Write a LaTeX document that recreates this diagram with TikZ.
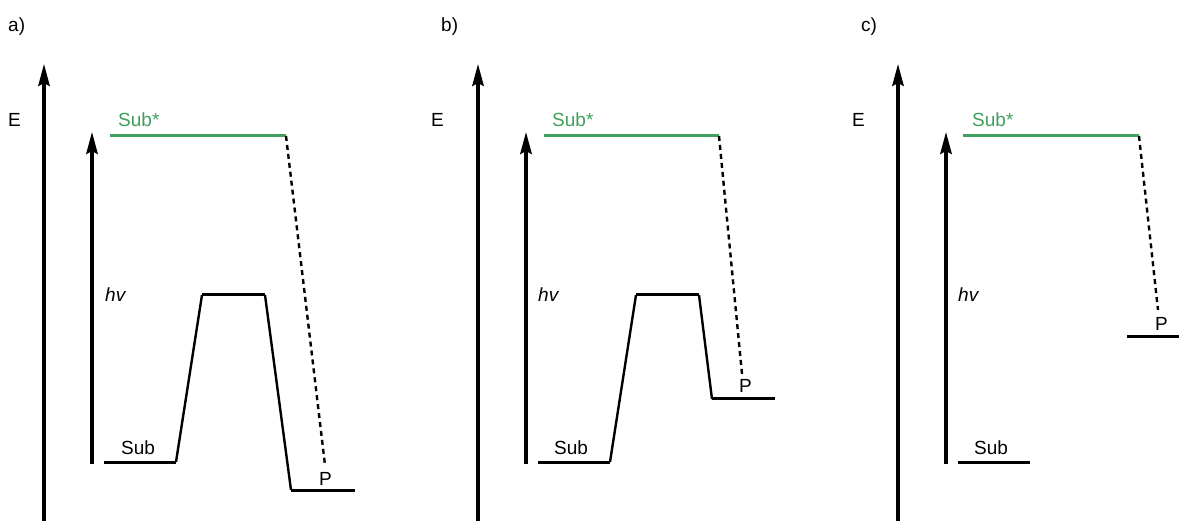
\documentclass[tikz,border=0pt]{standalone}
\usepackage{fontspec}
\setmainfont{Liberation Sans}
\usetikzlibrary{arrows.meta}
\definecolor{subgreen}{RGB}{62,160,92}
\begin{document}
\begin{tikzpicture}[x=1pt,y=-1pt,
  axisarrow/.style={line width=3.2pt,-{Stealth[length=22pt,width=11.5pt,inset=3pt]}},
  level/.style={line width=3pt},
  slope/.style={line width=2.4pt,line join=round},
  excited/.style={line width=3pt,draw=subgreen},
  decay/.style={line width=2.4pt,dash pattern=on 5pt off 4pt},
  lbl/.style={inner sep=0pt,font=\fontsize{19}{22}\selectfont,anchor=base west},
  glbl/.style={lbl,text=subgreen}]
\useasboundingbox (0,0) rectangle (1179,521);
% ---------- panel a ----------
\node[lbl] (la) at (8,32) {a)};
\coordinate (aA0) at (44,521); \coordinate (aA1) at (44,64);
\draw[axisarrow] (aA0) -- (aA1);
\node[lbl] (aE) at (8,127) {E};
\coordinate (aH0) at (92,464); \coordinate (aH1) at (92,132);
\draw[axisarrow] (aH0) -- (aH1);
\node[lbl] (ahv) at (105,302) {\itshape hv};
\coordinate (aG0) at (110,136); \coordinate (aG1) at (286,136);
\draw[excited] (aG0) -- (aG1);
\node[glbl] (aSs) at (118,127) {Sub*};
\coordinate (aS0) at (104,462); \coordinate (aS1) at (176,462);
\coordinate (aT0) at (202,295); \coordinate (aT1) at (265,295);
\coordinate (aP0) at (291,490); \coordinate (aP1) at (355,490);
\draw[level] (aS0) -- (aS1);
\draw[slope] (aS1) -- (aT0);
\draw[level] (aT0) -- (aT1);
\draw[slope] (aT1) -- (aP0);
\draw[level] (aP0) -- (aP1);
\node[lbl] (aSub) at (121,454) {Sub};
\node[lbl] (aP) at (319,485) {P};
\coordinate (aD) at (325,465);
\draw[decay] (aG1) -- (aD);
% ---------- panel b ----------
\node[lbl] (lb) at (441,32) {b)};
\coordinate (bA0) at (478,521); \coordinate (bA1) at (478,64);
\draw[axisarrow] (bA0) -- (bA1);
\node[lbl] (bE) at (431,127) {E};
\coordinate (bH0) at (526,464); \coordinate (bH1) at (526,132);
\draw[axisarrow] (bH0) -- (bH1);
\node[lbl] (bhv) at (538,302) {\itshape hv};
\coordinate (bG0) at (544,136); \coordinate (bG1) at (719,136);
\draw[excited] (bG0) -- (bG1);
\node[glbl] (bSs) at (552,127) {Sub*};
\coordinate (bS0) at (538,462); \coordinate (bS1) at (610,462);
\coordinate (bT0) at (636,295); \coordinate (bT1) at (699,295);
\coordinate (bP0) at (712,399); \coordinate (bP1) at (775,399);
\draw[level] (bS0) -- (bS1);
\draw[slope] (bS1) -- (bT0);
\draw[level] (bT0) -- (bT1);
\draw[slope] (bT1) -- (bP0);
\draw[level] (bP0) -- (bP1);
\node[lbl] (bSub) at (554,454) {Sub};
\node[lbl] (bP) at (739,393) {P};
\coordinate (bD) at (742,374);
\draw[decay] (bG1) -- (bD);
% ---------- panel c ----------
\node[lbl] (lc) at (861,32) {c)};
\coordinate (cA0) at (898,521); \coordinate (cA1) at (898,64);
\draw[axisarrow] (cA0) -- (cA1);
\node[lbl] (cE) at (852,127) {E};
\coordinate (cH0) at (946,464); \coordinate (cH1) at (946,132);
\draw[axisarrow] (cH0) -- (cH1);
\node[lbl] (chv) at (958,302) {\itshape hv};
\coordinate (cG0) at (963,136); \coordinate (cG1) at (1139,136);
\draw[excited] (cG0) -- (cG1);
\node[glbl] (cSs) at (972,127) {Sub*};
\coordinate (cS0) at (958,462); \coordinate (cS1) at (1030,462);
\draw[level] (cS0) -- (cS1);
\coordinate (cP0) at (1127,337); \coordinate (cP1) at (1179,337);
\draw[level] (cP0) -- (cP1);
\node[lbl] (cSub) at (974,454) {Sub};
\node[lbl] (cP) at (1155,331) {P};
\coordinate (cD) at (1158,310);
\draw[decay] (cG1) -- (cD);
\end{tikzpicture}
\end{document}
